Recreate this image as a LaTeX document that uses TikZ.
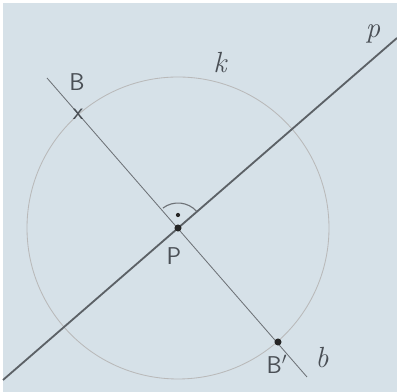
\documentclass[tikz,border=0pt]{standalone}
\usepackage{tikz}
\usetikzlibrary{positioning,calc}
\definecolor{paper}{HTML}{D6E1E8}
\definecolor{pencil}{HTML}{4A4F55}

\begin{document}
\begin{tikzpicture}[x=0.025cm, y=-0.025cm,
  pline/.style={draw=pencil!90, line width=1.3pt},
  bline/.style={draw=pencil!80, line width=0.6pt},
  kcirc/.style={draw=gray!55, line width=0.6pt},
  lbl/.style={font=\sffamily\LARGE, text=pencil},
  scr/.style={font=\huge\itshape, text=pencil},
  pt/.style={circle, fill=black!85, inner sep=0pt, minimum size=5pt}
]

% paper
\fill[white] (0,0) rectangle (397,392);
\fill[paper] (3,3) rectangle (397,392);
\useasboundingbox (0,0) rectangle (397,392);

% centre and line end points
\coordinate (P) at (178,228);
\coordinate (p1) at (3,380);
\coordinate (p2) at (397,38);
\coordinate (b1) at (47,78);
\coordinate (b2) at (307,377);

% circle k
\draw[kcirc] (P) circle[radius=151];

% lines
\draw[bline] (b1) -- (b2);
\draw[pline] (p1) -- (p2);

% right angle
\draw[bline, line width=0.8pt] ($(P)+(233:25)$) arc[start angle=233, end angle=318, radius=25];
\node[circle, fill=black!85, inner sep=0pt, minimum size=3pt] (dot) at (178,215) {};

% points
\node[lbl, inner sep=0pt] (B) at (78,114) {x};
\node[pt] (Pm) at (P) {};
\node[pt] (Bp) at (278,342) {};

% labels
\node[lbl] (Blab) at (77,82) {B};
\node[lbl] (Plab) at (174,256) {P};
\node[lbl] (Bplab) at (277,364) {B$'$};
\node[scr] (klab) at (220,63) {k};
\node[scr] (plab) at (373,34) {p};
\node[scr] (blab) at (322,358) {b};

\end{tikzpicture}
\end{document}
